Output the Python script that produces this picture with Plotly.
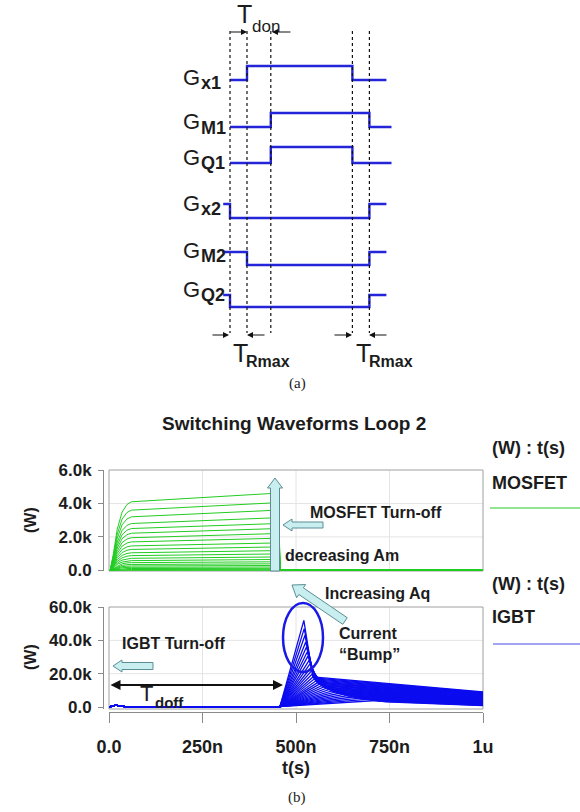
import plotly.graph_objects as go

# ------------------------------------------------------------------ data (a)
# timing diagram: times in switching units, levels 0/1
edge_times = [0.0, 1.0, 2.4, 7.2, 8.2]          # dotted marker lines
gx1_t = [0.0, 1.0, 7.2, 9.2];  gx1_v = [0, 1, 0, 0]
gm1_t = [0.0, 2.4, 8.2, 9.5];  gm1_v = [0, 1, 0, 0]
gq1_t = [0.0, 2.4, 7.2, 9.5];  gq1_v = [0, 1, 0, 0]
gx2_t = [-0.4, 0.0, 8.2, 9.2]; gx2_v = [1, 0, 1, 1]
gm2_t = [-0.45, 1.0, 8.2, 9.2]; gm2_v = [1, 0, 1, 1]
gq2_t = [-0.4, 0.0, 8.2, 9.2]; gq2_v = [1, 0, 1, 1]
signal_main = ["G", "G", "G", "G", "G", "G"]
signal_sub = ["x1", "M1", "Q1", "x2", "M2", "Q2"]

# ------------------------------------------------------------------ data (b)
time_ticks_ns = [0, 250, 500, 750, 1000]
time_tick_text = ["0.0", "250n", "500n", "750n", "1u"]
mos_ticks = [0, 2000, 4000, 6000]
mos_tick_text = ["0.0", "2.0k", "4.0k", "6.0k"]
igbt_ticks = [0, 20000, 40000, 60000]
igbt_tick_text = ["0.0", "20.0k", "40.0k", "60.0k"]

# MOSFET power curves (kW): level after turn-on rise and just before turn-off
mos_start_kw = [4.10, 3.60, 3.20, 2.80, 2.50, 2.22, 1.95, 1.70, 1.46, 1.25,
                1.05, 0.88, 0.72, 0.58, 0.46, 0.35, 0.26, 0.18, 0.11, 0.05, 0.0]
mos_end_kw = [4.62, 4.05, 3.60, 3.15, 2.80, 2.50, 2.20, 1.92, 1.64, 1.40,
              1.18, 0.98, 0.80, 0.65, 0.51, 0.39, 0.29, 0.20, 0.12, 0.06, 0.0]
mos_rise_t_ns = [3, 12, 22, 35, 48, 60]
mos_rise_frac = [0.0, 0.25, 0.60, 0.85, 0.96, 1.0]
mos_plateau_end_ns = 452
mos_off_ns = 458

# IGBT power curves (kW)
igbt_pre_t_ns = [0, 8, 18, 30, 45, 457]
igbt_pre_kw = [0.0, 0.4, 1.1, 0.5, 0.2, 0.2]
igbt_peak_t_ns = [521, 522, 524, 526, 528, 530, 532, 535, 538, 541,
                  544, 548, 552, 556, 561, 566, 571, 577, 583, 590,
                  597, 605, 614, 624, 635, 647, 661, 677, 695, 715]
igbt_peak_kw = [52.0, 47.0, 43.0, 39.0, 36.0, 33.0, 30.5, 28.0, 26.0, 24.0,
                22.3, 20.8, 19.4, 18.1, 16.9, 15.8, 14.8, 13.8, 12.9, 12.0,
                11.1, 10.3, 9.5, 8.7, 7.9, 7.1, 6.3, 5.5, 4.7, 3.9]
igbt_knee_t_ns = [545, 547, 549, 551, 553, 555, 557, 560, 563, 566,
                  569, 573, 577, 581, 586, 591, 596, 602, 608, 615,
                  622, 630, 639, 649, 660, 672, 686, 702, 720, 740]
igbt_knee_kw = [18.0, 17.4, 16.8, 16.2, 15.6, 15.1, 14.6, 14.1, 13.6, 13.1,
                12.6, 12.1, 11.6, 11.1, 10.6, 10.1, 9.6, 9.1, 8.6, 8.1,
                7.6, 7.1, 6.6, 6.1, 5.6, 5.1, 4.6, 4.1, 3.6, 3.1]
igbt_tail_kw = [9.0, 8.7, 8.4, 8.1, 7.8, 7.5, 7.2, 6.9, 6.6, 6.3,
                6.0, 5.7, 5.4, 5.1, 4.8, 4.5, 4.2, 3.9, 3.6, 3.3,
                3.0, 2.7, 2.4, 2.1, 1.8, 1.6, 1.4, 1.2, 1.0, 0.8]

# ------------------------------------------------------------------ layout helpers
W, H = 580, 812
def px(x):
    return x / W
def py(y):
    return 1 - y / H

FONT = "Liberation Sans, Arial, sans-serif"
TXT = "#1c1c1c"
GREEN = "#22cc22"
BLUE = "#0c0cf0"
WAVE = "#2424d8"

fig = go.Figure()

# ---------------- (a) timing waveforms on x3/y3 (y3 in row units of the panel)
row_low = [80, 127, 163, 218, 265, 307]
row_amp = [14, 14, 16, 14, 13, 12]
sigs = [(gx1_t, gx1_v), (gm1_t, gm1_v), (gq1_t, gq1_v),
        (gx2_t, gx2_v), (gm2_t, gm2_v), (gq2_t, gq2_v)]
for (tt, vv), base, amp in zip(sigs, row_low, row_amp):
    fig.add_trace(go.Scatter(x=tt, y=[base - v * amp for v in vv], mode="lines",
                             line=dict(color=WAVE, width=2.4, shape="hv"),
                             xaxis="x3", yaxis="y3", hoverinfo="skip"))

# ---------------- (b) MOSFET curves
for s, e in zip(mos_start_kw, mos_end_kw):
    xs = list(mos_rise_t_ns) + [mos_plateau_end_ns, mos_off_ns, 1000]
    ys = [s * 1000 * f for f in mos_rise_frac] + [e * 1000, 0, 0]
    fig.add_trace(go.Scatter(x=xs, y=ys, mode="lines",
                             line=dict(color=GREEN, width=1),
                             xaxis="x", yaxis="y", hoverinfo="skip"))

# ---------------- (b) IGBT curves
for tp, vp, tk, vk, vt in zip(igbt_peak_t_ns, igbt_peak_kw, igbt_knee_t_ns,
                              igbt_knee_kw, igbt_tail_kw):
    xs = list(igbt_pre_t_ns) + [tp, tk, 1000]
    ys = [v * 1000 for v in igbt_pre_kw] + [vp * 1000, vk * 1000, vt * 1000]
    fig.add_trace(go.Scatter(x=xs, y=ys, mode="lines",
                             line=dict(color=BLUE, width=1.3),
                             xaxis="x2", yaxis="y2", hoverinfo="skip"))

shapes = []
annotations = []

# dotted marker lines in (a)
for t in edge_times:
    shapes.append(dict(type="line", xref="x3", yref="y3", x0=t, x1=t, y0=31, y1=333,
                       line=dict(color="#111", width=1.2, dash="dot")))

def text(x, y, s, size, bold=True, xanchor="left", family=FONT, color=TXT, angle=0):
    annotations.append(dict(x=px(x), y=py(y), xref="paper", yref="paper", text=s,
                            showarrow=False, xanchor=xanchor, yanchor="middle",
                            textangle=angle, borderpad=0,
                            font=dict(family=family, size=size, color=color,
                                      weight="bold" if bold else "normal")))

# signal labels
g_center = [77, 122, 157, 203, 250, 289]
for m, sub, cy in zip(signal_main, signal_sub, g_center):
    text(182, cy, m, 22, bold=False)
    text(200, cy + 6, sub, 18, bold=True)

# T_don, T_Rmax
text(236, 14, "T", 25, bold=False)
text(251, 26, "don", 17, bold=False)
text(232, 353, "T", 25, bold=False)
text(245, 362, "Rmax", 16, bold=True)
text(355, 353, "T", 25, bold=False)
text(368, 362, "Rmax", 16, bold=True)
text(297, 383, "(a)", 15, bold=False, xanchor="center", family="Liberation Serif, serif")

def arrow(hx, hy, tx, ty, width=1.2, color="#111", head=2, size=1.0, side="end"):
    annotations.append(dict(x=px(hx), y=py(hy), xref="paper", yref="paper",
                            ax=tx - hx, ay=ty - hy, axref="pixel", ayref="pixel",
                            text="", showarrow=True, arrowhead=head, arrowsize=size,
                            arrowwidth=width, arrowcolor=color, arrowside=side))

arrow(247, 32, 229, 32)
arrow(272, 32, 292, 32)
arrow(229, 335, 211, 335)
arrow(247, 335, 266, 335)
arrow(352, 335, 333, 335)
arrow(369, 335, 388, 335)

# (b) texts
text(294, 423, "Switching Waveforms Loop 2", 19, xanchor="center")
text(491, 448, "(W) : t(s)", 18)
text(491, 483, "MOSFET", 18)
text(491, 584, "(W) : t(s)", 18)
text(491, 617, "IGBT", 18)
text(30, 520, "(W)", 16, xanchor="center", angle=-90)
text(30, 657, "(W)", 16, xanchor="center", angle=-90)
text(309, 512, "MOSFET Turn-off", 16)
text(284, 555, "decreasing Am", 16)
text(324, 593, "Increasing Aq", 16)
text(338, 633, "Current", 16)
text(338, 654, "\u201cBump\u201d", 16)
text(121, 643, "IGBT Turn-off", 16)
text(139, 693, "T", 22, bold=False)
text(154, 702, "doff", 15)
text(297, 797, "(b)", 15, bold=False, xanchor="center", family="Liberation Serif, serif")

# T_doff double arrow
arrow(283, 685, 109, 685, width=2, color="#111", head=2, size=1.0, side="end+start")

# legend sample lines
shapes.append(dict(type="line", xref="paper", yref="paper", x0=px(490), x1=px(580),
                   y0=py(508), y1=py(508), line=dict(color=GREEN, width=1.2)))
shapes.append(dict(type="line", xref="paper", yref="paper", x0=px(493), x1=px(580),
                   y0=py(644), y1=py(644), line=dict(color="#4848ee", width=1.2)))

# grid lines + boxes
GRID = "#e4e4e4"
for xr, yr, ygrid in (("x", "y", [2000, 4000]), ("x2", "y2", [20000, 40000])):
    for t in [250, 500, 750]:
        shapes.append(dict(type="line", xref=xr, yref=yr + " domain", x0=t, x1=t,
                           y0=0, y1=1, layer="below", line=dict(color=GRID, width=1)))
    for g in ygrid:
        shapes.append(dict(type="line", xref=xr + " domain", yref=yr, x0=0, x1=1,
                           y0=g, y1=g, layer="below", line=dict(color=GRID, width=1)))
    shapes.append(dict(type="rect", xref=xr + " domain", yref=yr + " domain",
                       x0=0, x1=1, y0=0, y1=1, layer="below",
                       line=dict(color="#a0a0a0", width=1)))

# ellipse around the current bump
shapes.append(dict(type="circle", xref="paper", yref="paper", x0=px(283), x1=px(323),
                   y0=py(672), y1=py(603), line=dict(color="#1a1ae6", width=2.5)))

# block arrows
def block_arrow(tail, tip, shaft_w, head_w, head_len):
    (x0, y0), (x1, y1) = tail, tip
    dx, dy = x1 - x0, y1 - y0
    L = (dx * dx + dy * dy) ** 0.5
    ux, uy = dx / L, dy / L
    nx, ny = -uy, ux
    bx, by = x1 - ux * head_len, y1 - uy * head_len
    pts = [(x0 + nx * shaft_w / 2, y0 + ny * shaft_w / 2),
           (bx + nx * shaft_w / 2, by + ny * shaft_w / 2),
           (bx + nx * head_w / 2, by + ny * head_w / 2),
           (x1, y1),
           (bx - nx * head_w / 2, by - ny * head_w / 2),
           (bx - nx * shaft_w / 2, by - ny * shaft_w / 2),
           (x0 - nx * shaft_w / 2, y0 - ny * shaft_w / 2)]
    path = "M " + " L ".join(f"{px(a):.5f},{py(b):.5f}" for a, b in pts) + " Z"
    shapes.append(dict(type="path", xref="paper", yref="paper", path=path,
                       fillcolor="#c8eef0", line=dict(color="#5a8e94", width=1)))

block_arrow((275, 571), (275, 478), 9, 15, 10)
block_arrow((323, 525), (283, 525), 6, 12, 9)
block_arrow((153, 666), (113, 666), 7, 12, 9)
block_arrow((345, 621), (292, 585), 8, 16, 11)

ytickfont = dict(family=FONT, size=17, color=TXT, weight="bold")
xtickfont = dict(family=FONT, size=18, color=TXT, weight="bold")
fig.update_layout(
    width=W, height=H, autosize=False, showlegend=False,
    margin=dict(l=0, r=0, t=0, b=0, pad=0, autoexpand=False),
    paper_bgcolor="white", plot_bgcolor="rgba(0,0,0,0)",
    xaxis=dict(domain=[px(109), px(483)], range=[0, 1000], anchor="y",
               showticklabels=False, ticks="", showgrid=False, zeroline=False,
               showline=False, fixedrange=True, automargin=False),
    yaxis=dict(domain=[py(571), py(470)], range=[-40, 6000], anchor="free",
               position=px(103), showline=True, linecolor="#8a8a8a", linewidth=1,
               ticks="outside", ticklen=5, tickcolor="#8a8a8a", ticklabelstandoff=3,
               tickvals=mos_ticks, ticktext=mos_tick_text, tickfont=ytickfont,
               showgrid=False, zeroline=False, fixedrange=True, automargin=False),
    xaxis2=dict(domain=[px(109), px(483)], range=[0, 1000], anchor="free",
                position=py(712), showline=True, linecolor="#8a8a8a", linewidth=1,
                ticks="outside", ticklen=10, tickcolor="#8a8a8a", ticklabelstandoff=8,
                tickvals=time_ticks_ns, ticktext=time_tick_text, tickfont=xtickfont,
                title=dict(text="t(s)", font=dict(family=FONT, size=18, color=TXT,
                                                  weight="bold"), standoff=5),
                showgrid=False, zeroline=False, fixedrange=True, automargin=False),
    yaxis2=dict(domain=[py(709), py(607)], range=[-1200, 60000], anchor="free",
                position=px(103), showline=True, linecolor="#8a8a8a", linewidth=1,
                ticks="outside", ticklen=5, tickcolor="#8a8a8a", ticklabelstandoff=3,
                tickvals=igbt_ticks, ticktext=igbt_tick_text, tickfont=ytickfont,
                showgrid=False, zeroline=False, fixedrange=True, automargin=False),
    xaxis3=dict(domain=[0, 1], range=[-230 / 17, 350 / 17], anchor="y3",
                visible=False, fixedrange=True),
    yaxis3=dict(domain=[py(400), 1], range=[400, 0], anchor="x3",
                visible=False, fixedrange=True),
    shapes=shapes, annotations=annotations,
)

fig.write_html("out.html", config={"displayModeBar": False})
